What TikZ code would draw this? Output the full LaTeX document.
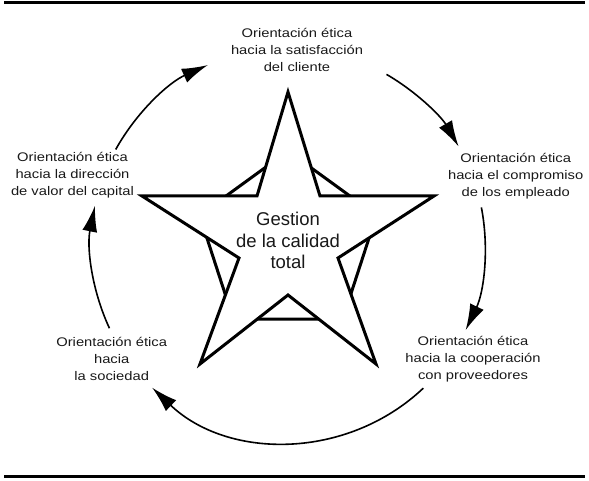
\documentclass[tikz,border=0pt]{standalone}
\usepackage{fontspec}
\setmainfont{Liberation Sans}
\newfontfamily\lblfont{Liberation Sans}[FakeStretch=1.18]
\usetikzlibrary{arrows.meta}
\begin{document}
\begin{tikzpicture}[x=1pt,y=1pt,
  labelnode/.style={align=center,inner sep=0pt,font=\lblfont\fontsize{12.5}{17}\selectfont,text=black!90},
  centernode/.style={align=center,inner sep=0pt,font=\fontsize{18.5}{21.5}\selectfont,text=black!90},
  cycarrow/.style={line width=1.6pt,-{Latex[length=26pt,width=15pt]}},
  starline/.style={line width=3pt,line join=miter,fill=white},
  rulebar/.style={line width=3pt}]
\useasboundingbox (0,0) rectangle (589,480);
% rules
\coordinate (rt1) at (4,477); \coordinate (rt2) at (585,477);
\coordinate (rb1) at (4,4); \coordinate (rb2) at (585,4);
\draw[rulebar] (rt1) -- (rt2);
\draw[rulebar] (rb1) -- (rb2);
% pentagon behind the star
\coordinate (pc) at (288,236);
\path (pc) ++(90:93) coordinate (p1);
\path (pc) ++(18:93) coordinate (p2);
\path (pc) ++(-54:93) coordinate (p3);
\path (pc) ++(-126:93) coordinate (p4);
\path (pc) ++(162:93) coordinate (p5);
\draw[starline] (p1) -- (p2) -- (p3) -- (p4) -- (p5) -- cycle;
% star
\coordinate (s1) at (288,388);
\coordinate (s2) at (320,284);
\coordinate (s3) at (434,284);
\coordinate (s4) at (338,222);
\coordinate (s5) at (376,116);
\coordinate (s6) at (288,185);
\coordinate (s7) at (200,116);
\coordinate (s8) at (239,222);
\coordinate (s9) at (142,284);
\coordinate (s10) at (257,284);
\draw[starline] (s1) -- (s2) -- (s3) -- (s4) -- (s5) -- (s6) -- (s7) -- (s8) -- (s9) -- (s10) -- cycle;
\node[centernode] (gc) at (288,239.5) {Gestion\\de la calidad\\total};
% labels
\node[labelnode] (top) at (297,430.5) {Orientación ética\\hacia la satisfacción\\del cliente};
\node[labelnode] (rgt) at (515.7,304) {Orientación ética\\hacia el compromiso\\de los empleado};
\node[labelnode] (lft) at (72.5,305) {Orientación ética\\hacia la dirección\\de valor del capital};
\node[labelnode] (bl) at (111.7,121) {Orientación ética\\hacia\\la sociedad};
\node[labelnode] (br) at (473,121) {Orientación ética\\hacia la cooperación\\con proveedores};
% cycle arcs
\coordinate (cc) at (288,235);
\path (cc) ++(151:197) coordinate (a1s);
\path (cc) ++(60:197) coordinate (a2s);
\path (cc) ++(11:197) coordinate (a3s);
\path (cc) ++(-46.6:197) coordinate (a4s);
\path (cc) ++(205:197) coordinate (a5s);
\draw[cycarrow] (a1s) arc[start angle=151,end angle=114,radius=197];
\draw[cycarrow] (a2s) arc[start angle=60,end angle=30,radius=197];
\draw[cycarrow] (a3s) arc[start angle=11,end angle=-25.6,radius=197];
\draw[cycarrow] (a4s) arc[start angle=-46.6,end angle=-133.6,radius=197];
\draw[cycarrow] (a5s) arc[start angle=205,end angle=168.5,radius=197];
\end{tikzpicture}
\end{document}
